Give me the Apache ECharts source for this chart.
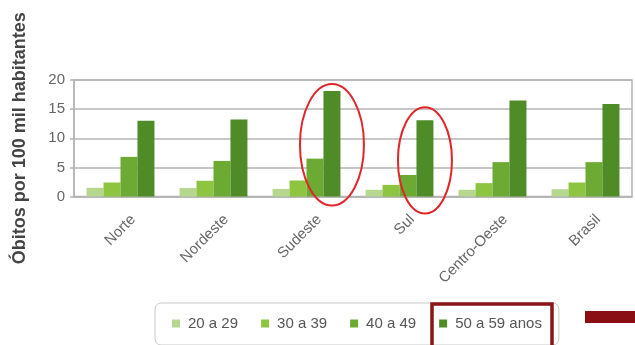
<!DOCTYPE html>
<html>
<head>
<meta charset="utf-8">
<script src="https://cdn.jsdelivr.net/npm/echarts@6/dist/echarts.min.js"></script>
<style>
html,body{margin:0;padding:0;background:#fff;}
#chart{width:635px;height:345px;}
</style>
</head>
<body>
<div id="chart"></div>
<script>
var categories = ['Norte', 'Nordeste', 'Sudeste', 'Sul', 'Centro-Oeste', 'Brasil'];
var seriesNames = ['20 a 29', '30 a 39', '40 a 49', '50 a 59 anos'];
var age20to29 = [1.5, 1.45, 1.3, 1.15, 1.15, 1.25];
var age30to39 = [2.4, 2.7, 2.75, 2.0, 2.3, 2.4];
var age40to49 = [6.8, 6.1, 6.5, 3.7, 5.9, 5.9];
var age50to59 = [13.0, 13.2, 18.1, 13.1, 16.5, 15.9];
var yTicks = [0, 5, 10, 15, 20];
var yTitle = 'Óbitos por 100 mil habitantes';
var highlighted = ['Sudeste', 'Sul'];

var colors = ['#b7d78f', '#8dc541', '#6caa34', '#4f8b26'];
var font = 'Liberation Sans, Arial, sans-serif';
var values = [age20to29, age30to39, age40to49, age50to59];

var chart = echarts.init(document.getElementById('chart'), null, {renderer: 'canvas'});

var series = seriesNames.map(function (n, i) {
  return {
    name: n,
    type: 'bar',
    data: values[i],
    barGap: '0%',
    barCategoryGap: '27%',
    itemStyle: {color: colors[i]},
    emphasis: {disabled: true}
  };
});

chart.setOption({
  animation: false,
  backgroundColor: '#fff',
  grid: {left: 74, right: 3, top: 80, height: 116.5, show: true, borderColor: '#b4b4b4', borderWidth: 1.5, backgroundColor: 'transparent'},
  xAxis: {
    type: 'category',
    data: categories,
    axisLine: {lineStyle: {color: '#b4b4b4', width: 1.5}},
    axisTick: {show: false},
    axisLabel: {rotate: 45, interval: 0, margin: 8, verticalAlign: 'top', lineHeight: 36, fontFamily: font, fontSize: 15, color: '#666'}
  },
  yAxis: {
    type: 'value',
    min: yTicks[0],
    max: yTicks[yTicks.length - 1],
    interval: yTicks[1] - yTicks[0],
    name: yTitle,
    nameLocation: 'middle',
    nameGap: 45,
    nameTextStyle: {fontFamily: font, fontSize: 18, fontWeight: 'bold', color: '#444'},
    axisLine: {show: true, lineStyle: {color: '#b4b4b4', width: 1.5}},
    axisTick: {show: true, length: 4, lineStyle: {color: '#b4b4b4', width: 1.5}},
    splitLine: {lineStyle: {color: '#b4b4b4', width: 1.5}},
    axisLabel: {margin: 9, fontFamily: font, fontSize: 15, color: '#666'}
  },
  legend: {
    left: 155, top: 303,
    padding: [13, 17, 14, 17],
    itemGap: 23,
    itemWidth: 8, itemHeight: 8,
    icon: 'rect',
    borderColor: '#c8c8c8', borderWidth: 1, borderRadius: 6,
    textStyle: {fontFamily: font, fontSize: 15, color: '#555', padding: [0, 0, 0, 3]},
    data: seriesNames
  },
  series: series
});

// Annotations: ellipses around the 50-59 bar of highlighted regions, decorative boxes
var ellipsePads = {Sudeste: {rx: 32, top: 7, bottom: 9}, Sul: {rx: 27, top: 13, bottom: 17}};
var graphics = [];
var lastData = chart.getModel().getSeriesByIndex(3).getData();
var zeroY = chart.convertToPixel({yAxisIndex: 0}, 0);
highlighted.forEach(function (c) {
  var idx = categories.indexOf(c);
  var lay = lastData.getItemLayout(idx);
  var cx = lay.x + lay.width / 2;
  var top = Math.min(lay.y, lay.y + lay.height) - ellipsePads[c].top;
  var bottom = zeroY + ellipsePads[c].bottom;
  graphics.push({
    type: 'ellipse',
    shape: {cx: cx, cy: (top + bottom) / 2, rx: ellipsePads[c].rx, ry: (bottom - top) / 2},
    style: {fill: null, stroke: '#e0262b', lineWidth: 2},
    z: 100
  });
});
graphics.push({
  type: 'rect',
  shape: {x: 432, y: 304, width: 120, height: 45},
  style: {fill: null, stroke: '#8a1418', lineWidth: 3.5},
  z: 100
});
graphics.push({
  type: 'rect',
  shape: {x: 585, y: 311, width: 52, height: 12},
  style: {fill: '#8a0f14'},
  z: 100
});
chart.setOption({graphic: graphics});
</script>
</body>
</html>
